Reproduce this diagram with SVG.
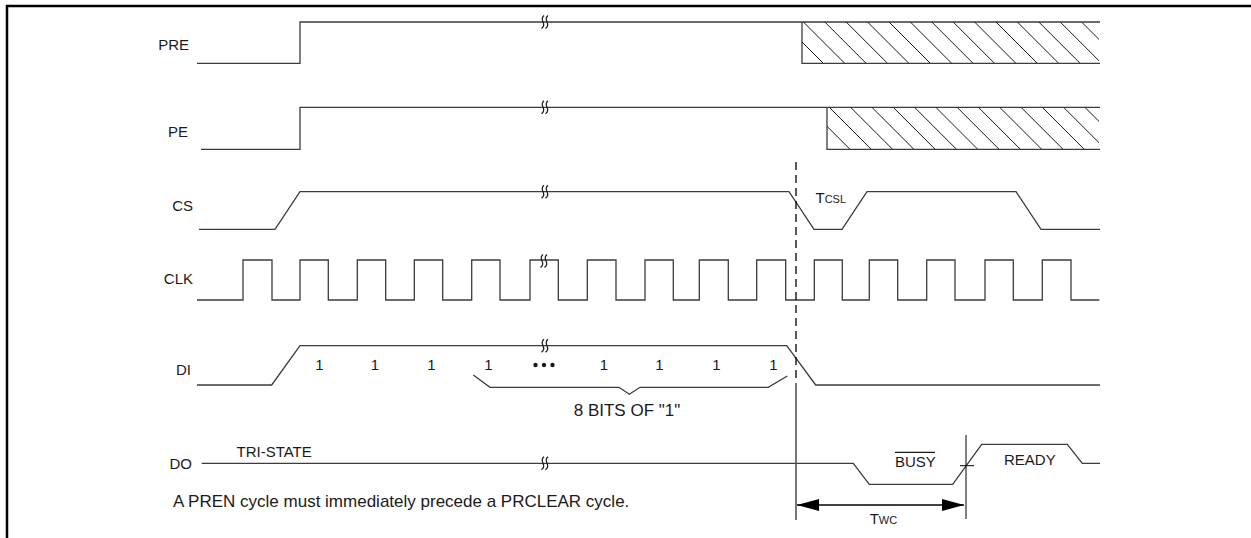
<svg xmlns="http://www.w3.org/2000/svg" width="1251" height="538" viewBox="0 0 1251 538">
<style>
.sig{fill:none;stroke:#3c3c3c;stroke-width:1.3}
.lbl{font-family:"Liberation Sans",Arial,sans-serif;font-size:15px;fill:#1a1a1a}
.big{font-family:"Liberation Sans",Arial,sans-serif;font-size:17px;fill:#1a1a1a}
.sub{font-size:11px}
.hatch{stroke:#1a1a1a;stroke-width:1}
.brk{fill:none;stroke:#1a1a1a;stroke-width:1.2}
</style>
<defs>
<g id="break">
<path class="brk" d="M-1,-6.5 Q-4,-4 -2,0 Q0,4 -3.5,6.5"/>
<path class="brk" d="M3,-6.5 Q0,-4 2,0 Q4,4 0.5,6.5"/>
</g>
<clipPath id="clipPre"><rect x="802" y="22" width="297" height="41"/></clipPath>
<clipPath id="clipPe"><rect x="827" y="107.3" width="272" height="42"/></clipPath>
<marker id="ah" viewBox="0 0 22 12" refX="22" refY="6" markerWidth="22" markerHeight="12" markerUnits="userSpaceOnUse" orient="auto-start-reverse">
<path d="M0,0 L22,6 L0,12 Z" fill="#000"/>
</marker>
</defs>
<rect x="0" y="0" width="1251" height="538" fill="#fff"/>
<g id="frame" fill="none" stroke="#000" stroke-width="2.5">
<path d="M7,538 V6 H1251"/>
</g>

<g id="PRE">
<text class="lbl" x="189" y="50" text-anchor="end">PRE</text>
<path class="sig" d="M197,63.3 H300 V22 H1100"/>
<path class="sig" d="M802,22 V63.3 H1100"/>
<g clip-path="url(#clipPre)">
<path class="hatch" d="M782,22 l41,41 M803.4,22 l41,41 M824.8,22 l41,41 M846.2,22 l41,41 M867.6,22 l41,41 M889,22 l41,41 M910.4,22 l41,41 M931.8,22 l41,41 M953.2,22 l41,41 M974.6,22 l41,41 M996,22 l41,41 M1017.4,22 l41,41 M1038.8,22 l41,41 M1060.2,22 l41,41 M1081.6,22 l41,41"/>
</g>
<use href="#break" x="545" y="22"/>
</g>

<g id="PE">
<text class="lbl" x="188" y="137" text-anchor="end">PE</text>
<path class="sig" d="M201,149.3 H300 V107.3 H1100"/>
<path class="sig" d="M827,107.3 V149.3 H1100"/>
<g clip-path="url(#clipPe)">
<path class="hatch" d="M808,107.3 l42,42 M829.3,107.3 l42,42 M850.6,107.3 l42,42 M871.9,107.3 l42,42 M893.2,107.3 l42,42 M914.5,107.3 l42,42 M935.8,107.3 l42,42 M957.1,107.3 l42,42 M978.4,107.3 l42,42 M999.7,107.3 l42,42 M1021,107.3 l42,42 M1042.3,107.3 l42,42 M1063.6,107.3 l42,42 M1084.9,107.3 l42,42"/>
</g>
<use href="#break" x="545" y="107.3"/>
</g>

<g id="CS">
<text class="lbl" x="193" y="210.5" text-anchor="end">CS</text>
<path class="sig" d="M199,229.3 H275 L300,191.7 H789 L814,229.3 H842 L867,191.7 H1016 L1041,229.3 H1100"/>
<use href="#break" x="545" y="191.7"/>
<text class="lbl" x="815.5" y="203.3">T<tspan class="sub">CSL</tspan></text>
</g>

<g id="CLK">
<text class="lbl" x="193" y="284" text-anchor="end">CLK</text>
<path class="sig" d="M197,300 H243 V260 H272 V300 H300 V260 H328.3 V300 H357.3 V260 H385.7 V300 H414.3 V260 H442.7 V300 H471.7 V260 H500 V300 H530 V260 H558.3 V300 H587.3 V260 H616 V300 H645 V260 H673.3 V300 H699.3 V260 H728.3 V300 H756.7 V260 H785.7 V300 H814.3 V260 H842.3 V300 H869.3 V260 H897.7 V300 H926.7 V260 H955 V300 H985 V260 H1013.3 V300 H1042.3 V260 H1071 V300 H1099.3"/>
<use href="#break" x="544" y="261"/>
</g>

<g id="DI">
<text class="lbl" x="191" y="375" text-anchor="end">DI</text>
<path class="sig" d="M197,385 H271.7 L300,345.7 H786.7 L815.7,385 H1100"/>
<use href="#break" x="545" y="345.7"/>
<g class="lbl" text-anchor="middle">
<text x="319.5" y="370">1</text>
<text x="375" y="370">1</text>
<text x="431.5" y="370">1</text>
<text x="488.5" y="370">1</text>
<text x="604" y="370">1</text>
<text x="659.5" y="370">1</text>
<text x="716.5" y="370">1</text>
<text x="773.5" y="370">1</text>
</g>
<g fill="#1a1a1a">
<circle cx="535.5" cy="365" r="2.2"/>
<circle cx="544" cy="365" r="2.2"/>
<circle cx="552.5" cy="365" r="2.2"/>
</g>
<path class="sig" d="M473.3,375 L490,387.3 H619 L629.3,394.3 L640,387.3 H768.3 L787.3,376"/>
<text class="big" x="627" y="416" text-anchor="middle">8 BITS OF "1"</text>
</g>

<g id="DO">
<text class="lbl" x="192" y="469" text-anchor="end">DO</text>
<text class="lbl" x="236.5" y="456.5">TRI-STATE</text>
<path class="sig" d="M201.7,463.3 H853.3 L869.3,484.3 H952.7 L981.7,444.3 H1067.3 L1082.3,463.3 H1100"/>
<use href="#break" x="545" y="463.3"/>
<text class="lbl" x="895" y="466.7">BUSY</text>
<line x1="895" y1="452.3" x2="935" y2="452.3" stroke="#1a1a1a" stroke-width="1.2"/>
<text class="lbl" x="1004" y="465">READY</text>
</g>

<g id="connectors">
<line x1="796" y1="162" x2="796" y2="383" stroke="#000" stroke-width="1.3" stroke-dasharray="8,5"/>
<line x1="796" y1="383" x2="796" y2="520" stroke="#555" stroke-width="1.6"/>
<line x1="966" y1="435" x2="966" y2="519" stroke="#000" stroke-width="1"/>
<line x1="960" y1="465.7" x2="974" y2="465.7" stroke="#000" stroke-width="1"/>
<line x1="797" y1="505" x2="964" y2="505" stroke="#000" stroke-width="1.3" marker-start="url(#ah)" marker-end="url(#ah)"/>
<text class="lbl" x="869.7" y="524">T<tspan class="sub">WC</tspan></text>
</g>

<text class="big" x="173" y="507">A PREN cycle must immediately precede a PRCLEAR cycle.</text>
</svg>
